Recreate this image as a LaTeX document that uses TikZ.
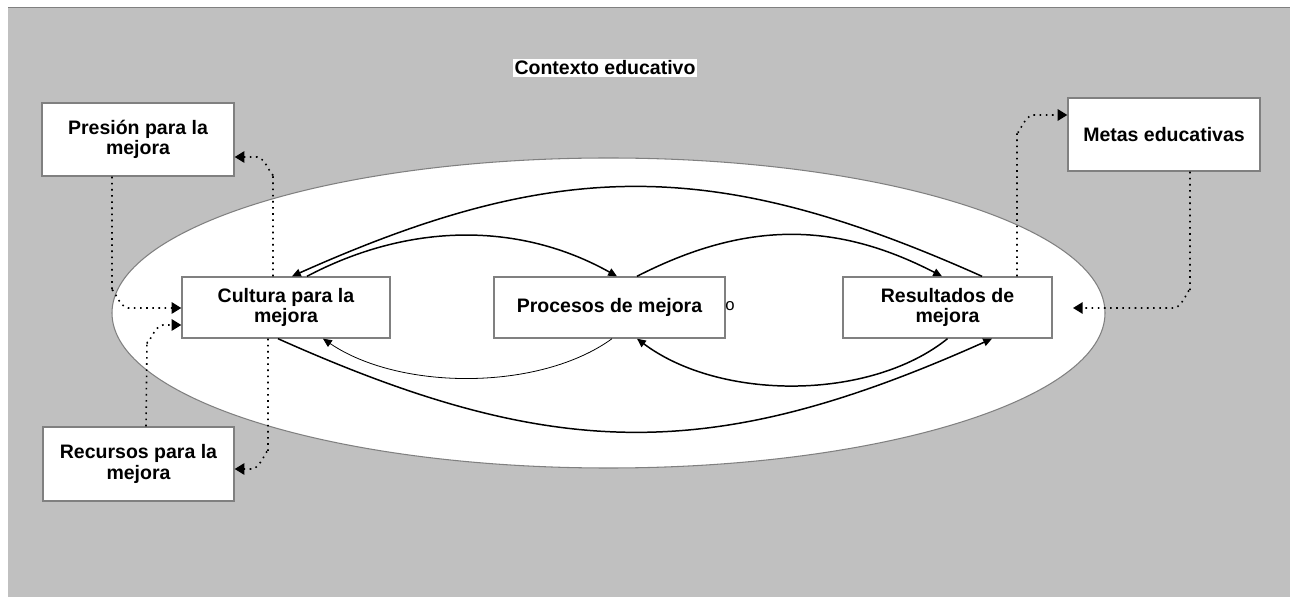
\documentclass[tikz,border=0pt]{standalone}
\usepackage{fontspec}
\setmainfont{Liberation Sans}
\usetikzlibrary{arrows.meta}
\definecolor{bggray}{HTML}{C0C0C0}
\definecolor{edgegray}{HTML}{808080}
\begin{document}
\begin{tikzpicture}[x=0.02cm,y=-0.02cm,
  box/.style={draw=edgegray,line width=0.8pt,fill=white,inner sep=0pt,align=center,
     font=\fontsize{11.1}{11.8}\selectfont\bfseries},
  solidarr/.style={line width=0.85pt,-{Triangle[length=5pt,width=4.5pt]}},
  thinarr/.style={line width=0.45pt,-{Triangle[length=5pt,width=4.5pt]}},
  dotarr/.style={line width=0.9pt,dash pattern=on 0.9pt off 2.6pt,-{Triangle[length=5.5pt,width=6.5pt]}}]
\useasboundingbox (0,0) rectangle (1290,597);
% background
\fill[bggray] (8,7) rectangle (1290,597);
\draw[edgegray,line width=1pt] (8,7.5) -- (1290,7.5);
% ellipse
\draw[fill=white,draw=edgegray,line width=0.6pt] (608.5,313) ellipse [x radius=496.5,y radius=155];
% title
\node[fill=white,inner sep=1pt,font=\fontsize{11.1}{12}\selectfont\bfseries] (title) at (605,68) {Contexto educativo};
% boxes
\node[box,minimum width=3.84cm,minimum height=1.46cm] (pres) at (138,139.5) {Presión para la\\mejora};
\node[box,minimum width=4.16cm,minimum height=1.22cm] (cul) at (286,307.5) {Cultura para la\\mejora};
\node[box,minimum width=3.82cm,minimum height=1.48cm] (rec) at (138.5,464) {Recursos para la\\mejora};
\node[box,minimum width=4.62cm,minimum height=1.22cm] (proc) at (609.5,307.5) {Procesos de mejora};
\node[box,minimum width=4.18cm,minimum height=1.22cm] (res) at (947.5,307.5) {Resultados de\\mejora};
\node[box,minimum width=3.84cm,minimum height=1.46cm] (met) at (1164,134.5) {Metas educativas};
\node[inner sep=0pt,font=\fontsize{9.5}{9.5}\selectfont] (pcirc) at (730,306) {o};
\coordinate (fend) at (1073,308);
% solid arcs
\draw[solidarr] ([xshift=0.69cm]res.north) .. controls (715,157) and (559,157) .. ([xshift=0.12cm]cul.north);
\draw[solidarr] ([xshift=0.42cm]cul.north) .. controls (410,222) and (520,222) .. ([xshift=0.15cm]proc.north);
\draw[solidarr] ([xshift=0.55cm]proc.north) .. controls (745,221) and (835,221) .. ([xshift=-0.11cm]res.north);
\draw[solidarr] ([xshift=-0.16cm]cul.south) .. controls (556,463) and (714,463) .. ([xshift=0.89cm]res.south);
\draw[thinarr] ([xshift=0.05cm]proc.south) .. controls (540,391) and (400,391) .. ([xshift=0.74cm]cul.south);
\draw[solidarr] ([xshift=0cm]res.south) .. controls (870,401) and (720,401) .. ([xshift=0.55cm]proc.south);
% dotted connectors
\draw[dotarr] ([xshift=-0.52cm]pres.south) -- (112,292) to[out=90,in=180] (128,308) -- ([yshift=-0.01cm]cul.west);
\draw[dotarr] ([xshift=0.15cm]rec.north) -- (147,341) to[out=-90,in=180] (163,325) -- ([yshift=-0.35cm]cul.west);
\draw[dotarr] ([xshift=-0.26cm]cul.north) -- (273,173) to[out=-90,in=0] (257,157) -- ([yshift=-0.35cm]pres.east);
\draw[dotarr] ([xshift=-0.36cm]cul.south) -- (268,453) to[out=90,in=0] (252,469) -- ([yshift=-0.1cm]rec.east);
\draw[dotarr] ([xshift=1.39cm]res.north) -- (1017,131) to[out=-90,in=180] (1033,115) -- ([yshift=0.39cm]met.west);
\draw[dotarr] ([xshift=0.52cm]met.south) -- (1190,292) to[out=90,in=0] (1174,308) -- (fend);
\end{tikzpicture}
\end{document}
